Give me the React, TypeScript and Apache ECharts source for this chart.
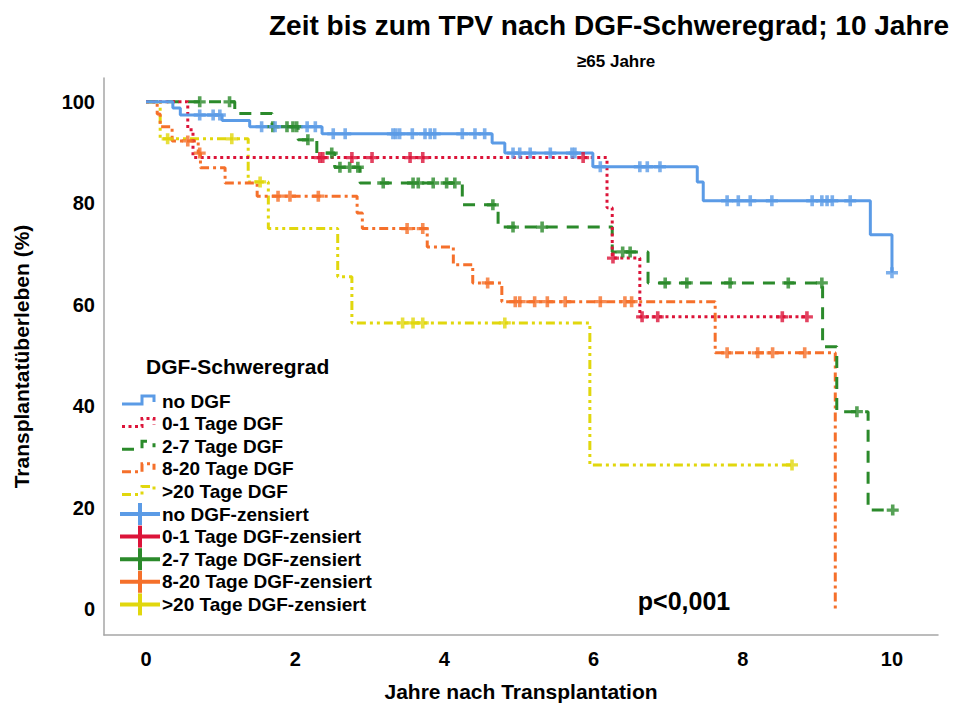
import React, { useEffect, useRef } from 'react';
import * as echarts from 'echarts';

// ---- data ----
const groupNames = ['no DGF', '0-1 Tage DGF', '2-7 Tage DGF', '8-20 Tage DGF', '>20 Tage DGF'];
const xTicks = [0, 2, 4, 6, 8, 10];
const yTicks = [0, 20, 40, 60, 80, 100];

const noDgfTimes = [0, 0.36, 0.46, 1.02, 1.39, 2.36, 4.64, 4.81, 5.99, 7.39, 7.47, 9.71, 10.0];
const noDgfSurv = [100, 98.8, 97.4, 96.3, 95.1, 93.7, 91.9, 89.9, 87.2, 84.2, 80.5, 73.8, 66.3];
const noDgfCensor = [0.72, 0.9, 0.99, 1.55, 1.73, 2.16, 2.27, 2.51, 2.67, 3.31, 3.35, 3.4, 3.57, 3.74, 3.81, 3.87, 4.24, 4.41, 4.54, 4.92, 5.01, 5.15, 5.42, 5.71, 5.75, 6.09, 6.62, 6.72, 6.89, 7.79, 7.94, 8.1, 8.39, 8.93, 9.06, 9.13, 9.2, 9.44, 10.0];

const dgf01Times = [0, 0.56, 0.63, 6.18, 6.25, 6.62, 8.86];
const dgf01Surv = [100, 94.5, 89.0, 79.1, 69.2, 57.6, 57.6];
const dgf01Censor = [2.33, 2.37, 2.76, 3.03, 3.54, 3.71, 5.86, 6.26, 6.65, 6.86, 8.53, 8.86];

const dgf27Times = [0, 1.19, 1.69, 2.04, 2.29, 2.53, 2.87, 4.24, 4.72, 6.25, 6.73, 9.07, 9.26, 9.68, 10.01];
const dgf27Surv = [100, 97.7, 95.1, 92.5, 89.9, 87.1, 84.0, 79.7, 75.3, 70.4, 64.3, 51.7, 38.9, 19.5, 19.5];
const dgf27Censor = [0.72, 1.12, 1.7, 1.89, 1.97, 2.02, 2.17, 2.49, 2.6, 2.73, 2.84, 3.18, 3.58, 3.65, 3.85, 4.03, 4.14, 4.65, 4.92, 5.31, 6.39, 6.49, 6.96, 7.25, 7.83, 8.61, 9.06, 9.53, 10.01];

const dgf820Times = [0, 0.15, 0.19, 0.35, 0.7, 0.73, 1.06, 1.49, 2.83, 2.9, 3.77, 4.12, 4.38, 4.77, 7.63, 9.24];
const dgf820Surv = [100, 97.6, 95.1, 92.3, 89.9, 87.0, 84.0, 81.4, 78.1, 75.0, 71.4, 67.9, 64.3, 60.6, 50.5, 0];
const dgf820Censor = [0.56, 0.72, 1.77, 1.93, 2.31, 3.5, 3.71, 4.58, 4.95, 5.01, 5.21, 5.38, 5.62, 6.09, 6.42, 6.51, 7.79, 8.2, 8.4, 8.83];

const dgf20Times = [0, 0.19, 1.37, 1.64, 2.57, 2.76, 5.95, 8.66];
const dgf20Surv = [100, 92.7, 84.2, 75.0, 65.5, 56.4, 28.4, 28.4];
const dgf20Censor = [0.29, 1.15, 1.53, 3.44, 3.58, 3.71, 4.81, 8.66];

// ---- styling ----
const FONT = '"Liberation Sans", Arial, sans-serif';
const colors = ['#5b9be6', '#dc1439', '#2b8a2b', '#f5702b', '#e1d70d'];
const dashes: (number[] | 'solid')[] = ['solid', [3, 3.5], [12, 9], [9, 4, 3, 4], [9, 4, 3, 4, 3, 4]];
const PLUS = 'path://M3.5,0H6.5V3.5H10V6.5H6.5V10H3.5V6.5H0V3.5H3.5Z';

const groups = [
  { times: noDgfTimes, surv: noDgfSurv, censor: noDgfCensor },
  { times: dgf01Times, surv: dgf01Surv, censor: dgf01Censor },
  { times: dgf27Times, surv: dgf27Surv, censor: dgf27Censor },
  { times: dgf820Times, surv: dgf820Surv, censor: dgf820Censor },
  { times: dgf20Times, surv: dgf20Surv, censor: dgf20Censor },
];

function survAt(times: number[], surv: number[], t: number) {
  let v = surv[0];
  for (let i = 0; i < times.length; i++) if (times[i] <= t) v = surv[i];
  return v;
}

function buildOption() {
  const series: any[] = [];
  const order = [4, 3, 2, 1, 0];
  order.forEach((gi) => {
    const g = groups[gi];
    series.push({
      name: groupNames[gi],
      type: 'line',
      step: 'end',
      symbol: 'none',
      data: g.times.map((t, i) => [t, g.surv[i]]),
      lineStyle: { color: colors[gi], width: 3, type: dashes[gi] },
      z: 2 + (4 - gi),
    });
  });
  order.forEach((gi) => {
    const g = groups[gi];
    series.push({
      name: groupNames[gi] + '-zensiert',
      type: 'scatter',
      symbol: PLUS,
      symbolSize: [12, 11],
      data: g.censor.map((t) => [t, survAt(g.times, g.surv, t)]),
      itemStyle: { color: colors[gi] },
      z: 8 + (4 - gi),
    });
  });

  const graphic: any[] = [];
  const legX = 122;
  const rowY0 = 401;
  const rowH = 22.6;
  graphic.push({
    type: 'text', left: 146, top: 356,
    style: { text: 'DGF-Schweregrad', font: `bold 21px ${FONT}`, fill: '#000' },
  });
  const labels = [...groupNames, ...groupNames.map((n) => n + '-zensiert')];
  labels.forEach((lab, i) => {
    const cy = rowY0 + i * rowH;
    const gi = i % 5;
    if (i < 5) {
      graphic.push({
        type: 'polyline',
        shape: { points: [[legX, cy + 3], [142, cy + 3], [142, cy - 5], [154, cy - 5], [154, cy + 1]] },
        style: { stroke: colors[gi], lineWidth: 3, fill: null, lineDash: dashes[gi] === 'solid' ? null : dashes[gi] },
      });
    } else {
      graphic.push({
        type: 'line',
        shape: { x1: 120, y1: cy, x2: 160, y2: cy },
        style: { stroke: colors[gi], lineWidth: 4 },
      });
      graphic.push({
        type: 'line',
        shape: { x1: 140, y1: cy - 11, x2: 140, y2: cy + 11 },
        style: { stroke: colors[gi], lineWidth: 4 },
      });
    }
    graphic.push({
      type: 'text', x: 162, y: cy,
      style: { text: lab, font: `bold 19px ${FONT}`, fill: '#000', verticalAlign: 'middle', textAlign: 'left' },
    });
  });
  graphic.push({
    type: 'text', x: 684, y: 601,
    style: { text: 'p<0,001', font: `bold 25px ${FONT}`, fill: '#000', textAlign: 'center', verticalAlign: 'middle' },
  });

  return {
    animation: false,
    backgroundColor: '#fff',
    title: [
      { text: 'Zeit bis zum TPV nach DGF-Schweregrad; 10 Jahre', left: 264, top: 6,
        textStyle: { fontFamily: FONT, fontWeight: 'bold', fontSize: 28, color: '#000' } },
      { text: '≥65 Jahre', left: 572, top: 48,
        textStyle: { fontFamily: FONT, fontWeight: 'bold', fontSize: 17, color: '#000' } },
    ],
    grid: { left: 104, right: 18, top: 78, bottom: 81, containLabel: false },
    xAxis: {
      type: 'value', min: -0.563, max: 10.617,
      axisLine: { show: true, onZero: false, lineStyle: { color: '#a6a6a6', width: 1.5 } },
      axisTick: { show: false }, splitLine: { show: false },
      axisLabel: { customValues: xTicks, fontFamily: FONT, fontWeight: 'bold', fontSize: 20, color: '#000', margin: 14 },
      name: 'Jahre nach Transplantation', nameLocation: 'middle', nameGap: 46,
      nameTextStyle: { fontFamily: FONT, fontWeight: 'bold', fontSize: 21, color: '#000' },
    },
    yAxis: {
      type: 'value', min: -5.13, max: 104.7,
      axisLine: { show: true, onZero: false, lineStyle: { color: '#a6a6a6', width: 1.5 } },
      axisTick: { show: false }, splitLine: { show: false },
      axisLabel: { customValues: yTicks, fontFamily: FONT, fontWeight: 'bold', fontSize: 20, color: '#000', margin: 9 },
      name: 'Transplantatüberleben (%)', nameLocation: 'middle', nameGap: 72,
      nameTextStyle: { fontFamily: FONT, fontWeight: 'bold', fontSize: 21, color: '#000' },
    },
    legend: { show: false },
    graphic,
    series,
  };
}

export default function App() {
  const ref = useRef<HTMLDivElement>(null);
  useEffect(() => {
    if (!ref.current) return;
    const chart = echarts.init(ref.current, null, { renderer: 'svg' });
    chart.setOption(buildOption() as any);
    return () => chart.dispose();
  }, []);
  return <div ref={ref} style={{ width: 956, height: 716, position: 'absolute', left: 0, top: 0 }} />;
}
